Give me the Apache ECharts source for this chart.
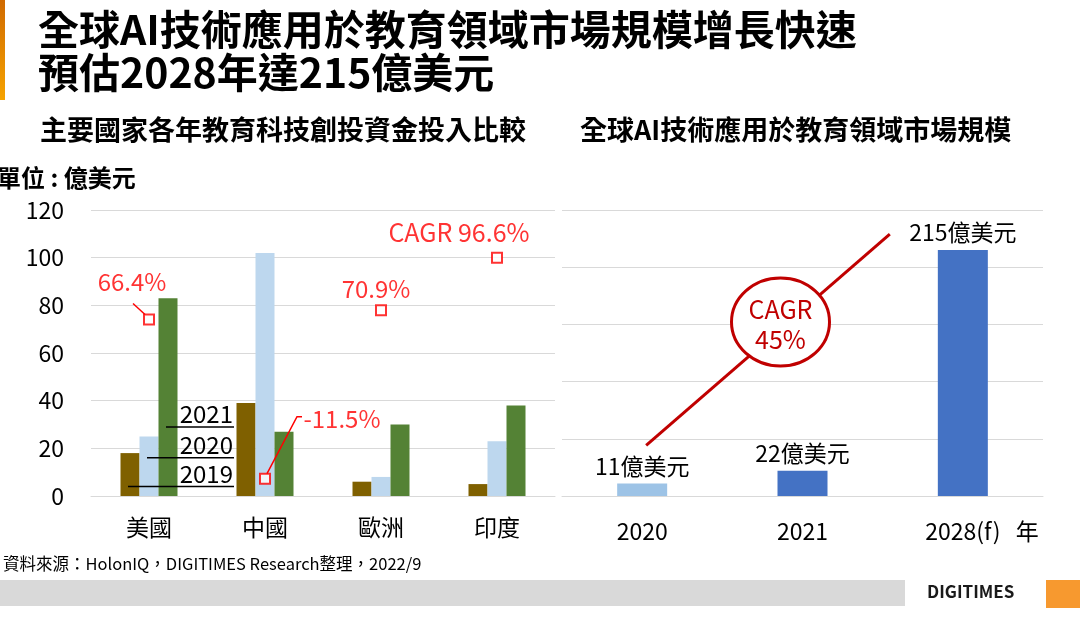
<!DOCTYPE html>
<html>
<head>
<meta charset="utf-8">
<script src="https://cdn.jsdelivr.net/npm/echarts@6/dist/echarts.min.js"></script>
<style>
  html, body { margin: 0; padding: 0; background: #fff; }
  #main { width: 1080px; height: 618px; }
</style>
</head>
<body>
<div id="main"></div>
<script>
(function () {
  'use strict';

  // left chart: ed-tech venture funding, unit 億美元
  var countries = ['美國', '中國', '歐洲', '印度'];
  var invest2019 = [18, 39, 6, 5];
  var invest2020 = [25, 102, 8, 23];
  var invest2021 = [83, 27, 30, 38];
  var cagrPct = [66.4, -11.5, 70.9, 96.6];
  var cagrText = ['66.4%', '-11.5%', '70.9%', 'CAGR 96.6%'];

  // right chart: global AI in education market
  var marketYears = ['2020', '2021', '2028(f)'];
  var marketSize = [11, 22, 215];
  var marketCagr = ['CAGR', '45%'];

  var FONT = '"Noto Sans CJK TC", "Noto Sans", sans-serif';
  var RED = '#FF0000';
  var DARK_RED = '#C00000';
  var GRID_LINE = '#D9D9D9';

  var chart = echarts.init(document.getElementById('main'));

  // label offsets from each CAGR marker
  var cagrOffsets = [[-17, -38], [77, -60], [-5, -21], [-38, -25]];

  var option = {
    animation: false,
    backgroundColor: '#fff',
    textStyle: { fontFamily: FONT },
    grid: [
      { left: 91, right: 525, top: 210, bottom: 122 },
      { left: 562, right: 37, top: 210, bottom: 122 }
    ],
    xAxis: [{
      type: 'category',
      gridIndex: 0,
      data: countries,
      axisLine: { lineStyle: { color: GRID_LINE } },
      axisTick: { show: false },
      axisLabel: { color: '#000', fontSize: 23, margin: 20, fontFamily: FONT }
    }, {
      type: 'category',
      gridIndex: 1,
      data: marketYears,
      axisLine: { lineStyle: { color: GRID_LINE } },
      axisTick: { show: false },
      axisLabel: { color: '#000', fontSize: 23, margin: 24, fontFamily: FONT }
    }],
    yAxis: [{
      type: 'value',
      gridIndex: 0,
      min: 0,
      max: 120,
      interval: 20,
      axisLine: { show: false },
      axisTick: { show: false },
      axisLabel: { color: '#000', fontSize: 23, margin: 27, fontFamily: FONT },
      splitLine: { lineStyle: { color: GRID_LINE } }
    }, {
      type: 'value',
      gridIndex: 0,
      min: -20,
      max: 120,
      show: false,
      splitLine: { show: false }
    }, {
      type: 'value',
      gridIndex: 1,
      min: 0,
      max: 250,
      interval: 50,
      axisLine: { show: false },
      axisTick: { show: false },
      axisLabel: { show: false },
      splitLine: { lineStyle: { color: GRID_LINE } }
    }],
    series: [{
      name: '2019', type: 'bar', xAxisIndex: 0, yAxisIndex: 0,
      data: invest2019, barWidth: 19, barGap: '0%',
      itemStyle: { color: '#7F6000' }
    }, {
      name: '2020', type: 'bar', xAxisIndex: 0, yAxisIndex: 0,
      data: invest2020, barWidth: 19, barGap: '0%',
      itemStyle: { color: '#BDD7EE' }
    }, {
      name: '2021', type: 'bar', xAxisIndex: 0, yAxisIndex: 0,
      data: invest2021, barWidth: 19, barGap: '0%',
      itemStyle: { color: '#548235' }
    }, {
      name: 'CAGR', type: 'scatter', xAxisIndex: 0, yAxisIndex: 1,
      symbol: 'rect', symbolSize: 10, z: 5,
      itemStyle: { color: '#fff', borderColor: RED, borderWidth: 2 },
      data: cagrPct.map(function (v, i) {
        return {
          value: v,
          label: {
            show: true,
            position: 'inside',
            offset: cagrOffsets[i],
            formatter: cagrText[i],
            color: RED,
            fontSize: i === 3 ? 25 : 24,
            fontFamily: FONT
          }
        };
      })
    }, {
      name: 'market', type: 'bar', xAxisIndex: 1, yAxisIndex: 2,
      barWidth: 50,
      data: marketSize.map(function (v, i) {
        return { value: v, itemStyle: { color: i === 0 ? '#9DC3E6' : '#4472C4' } };
      }),
      label: {
        show: true,
        position: 'top',
        distance: 6,
        color: '#000',
        fontSize: 23,
        fontFamily: FONT,
        formatter: '{c}億美元'
      }
    }]
  };

  chart.setOption(option);

  function px(grid, idx, v, yIdx) {
    return chart.convertToPixel({ xAxisIndex: grid, yAxisIndex: yIdx }, [idx, v]);
  }

  var g = [];

  // page decoration
  g.push({
    type: 'rect', shape: { x: 0, y: 0, width: 5, height: 100 },
    style: {
      fill: new echarts.graphic.LinearGradient(0, 0, 0, 1, [
        { offset: 0, color: '#D06A00' }, { offset: 1, color: '#F6A300' }
      ])
    }
  });
  g.push({ type: 'rect', shape: { x: 0, y: 580, width: 905, height: 26 }, style: { fill: '#D9D9D9' } });
  g.push({ type: 'rect', shape: { x: 1046, y: 580, width: 34, height: 28 }, style: { fill: '#F7992F' } });
  g.push({
    type: 'text', left: 927, top: 583,
    style: { text: 'DIGITIMES', fill: '#1a1a1a', font: 'bold 17px ' + FONT }
  });

  // titles
  g.push({
    type: 'text', left: 38, top: 9,
    style: { text: '全球AI技術應用於教育領域市場規模增長快速', fill: '#000', font: 'bold 41px ' + FONT }
  });
  g.push({
    type: 'text', left: 38, top: 52,
    style: { text: '預估2028年達215億美元', fill: '#000', font: 'bold 41px ' + FONT }
  });
  g.push({
    type: 'text', left: 40, top: 116,
    style: { text: '主要國家各年教育科技創投資金投入比較', fill: '#000', font: 'bold 27px ' + FONT }
  });
  g.push({
    type: 'text', left: 580, top: 116,
    style: { text: '全球AI技術應用於教育領域市場規模', fill: '#000', font: 'bold 27px ' + FONT }
  });
  g.push({
    type: 'text', left: -3, top: 166,
    style: { text: '單位 : 億美元', fill: '#000', font: 'bold 24px ' + FONT }
  });
  g.push({
    type: 'text', left: 3, top: 555,
    style: { text: '資料來源：HolonIQ，DIGITIMES Research整理，2022/9', fill: '#000', font: '16.5px ' + FONT }
  });

  // in-plot legend for the 美國 group
  var legendMarks = [
    { text: '2021', bar: 1, v: 29 },
    { text: '2020', bar: 0, v: 16 },
    { text: '2019', bar: -1, v: 4 }
  ];
  var usX = px(0, 0, 0, 0)[0];
  legendMarks.forEach(function (m) {
    var p = px(0, 0, m.v, 0);
    var x0 = usX + m.bar * 19 - 2;
    var x1 = usX + 85;
    g.push({
      type: 'line', shape: { x1: x0, y1: p[1], x2: x1, y2: p[1] },
      style: { stroke: '#000', lineWidth: 1.5 }, z: 10
    });
    g.push({
      type: 'text', x: x1 - 1, y: p[1] - 1, z: 10,
      style: { text: m.text, fill: '#000', font: '24px ' + FONT, textAlign: 'right', textVerticalAlign: 'bottom' }
    });
  });

  // leader lines for CAGR markers
  var m0 = px(0, 0, cagrPct[0], 1);
  g.push({
    type: 'line', shape: { x1: m0[0] - 16, y1: m0[1] - 16, x2: m0[0] - 4, y2: m0[1] - 5 },
    style: { stroke: RED, lineWidth: 1.5 }, z: 10
  });
  var m1 = px(0, 1, cagrPct[1], 1);
  g.push({
    type: 'polyline',
    shape: { points: [[m1[0] + 2, m1[1] - 5], [m1[0] + 32, m1[1] - 62], [m1[0] + 37, m1[1] - 62]] },
    style: { stroke: RED, lineWidth: 1.5, fill: null }, z: 10
  });

  // right chart CAGR arrow and badge
  var a = px(1, 0, marketSize[0], 2);
  var b = px(1, 2, marketSize[2], 2);
  var c = px(1, 1, 0, 2);
  g.push({
    type: 'line', shape: { x1: a[0] + 4, y1: a[1] - 38, x2: b[0] - 73, y2: b[1] - 16 },
    style: { stroke: DARK_RED, lineWidth: 3 }, z: 10
  });
  var cx = c[0] - 22, cy = c[1] - 174;
  g.push({
    type: 'ellipse', shape: { cx: cx, cy: cy, rx: 49, ry: 44 },
    style: { fill: '#fff', stroke: DARK_RED, lineWidth: 3 }, z: 11
  });
  g.push({
    type: 'text', x: cx, y: cy - 13, z: 12,
    style: { text: marketCagr[0], fill: DARK_RED, font: '25px ' + FONT, textAlign: 'center', textVerticalAlign: 'middle' }
  });
  g.push({
    type: 'text', x: cx, y: cy + 17, z: 12,
    style: { text: marketCagr[1], fill: DARK_RED, font: '25px ' + FONT, textAlign: 'center', textVerticalAlign: 'middle' }
  });

  // unit after the last year label
  var last = px(1, 2, 0, 2);
  g.push({
    type: 'text', x: last[0] + 53, y: last[1] + 35,
    style: { text: '年', fill: '#000', font: '23px ' + FONT, textAlign: 'left', textVerticalAlign: 'middle' }
  });

  chart.setOption({ graphic: g });

  window.addEventListener('resize', function () {
    chart.resize();
  });
})();
</script>
</body>
</html>
